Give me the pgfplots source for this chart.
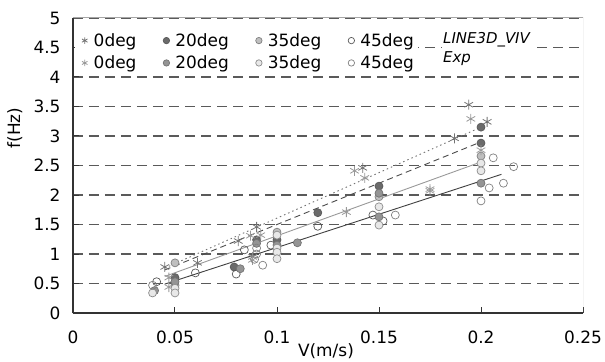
\documentclass[border=0pt]{standalone}
\usepackage{pgfplots}
\pgfplotsset{compat=1.18}
\usepackage{fontspec}
\setmainfont{DejaVu Sans}[ItalicFont={DejaVu Sans Oblique}]
\definecolor{gridc}{HTML}{5A5A5A}
\definecolor{axc}{HTML}{333333}
\begin{document}
\begin{tikzpicture}[font=\fontsize{17}{20}\selectfont]
\begin{axis}[
  scale only axis, width=510bp, height=295bp,
  xmin=0, xmax=0.25, ymin=0, ymax=5,
  xtick={0,0.05,0.1,0.15,0.2,0.25},
  xticklabels={0,0.05,0.1,0.15,0.2,0.25},
  ytick={0,0.5,1,1.5,2,2.5,3,3.5,4,4.5,5},
  yticklabels={0,0.5,1,1.5,2,2.5,3,3.5,4,4.5,5},
  /pgf/number format/assume math mode=true,
  axis lines=left,
  axis line style={draw=axc, line width=1.2bp, -},
  tick style={draw=axc, line width=1bp},
  tick align=inside, major tick length=6bp,
  xticklabel style={yshift=-14bp},
  yticklabel style={xshift=-9bp},
  ymajorgrids,
  major grid style={draw=gridc, line width=1.1bp, dash pattern=on 10bp off 6bp},
  xlabel={V(m/s)}, ylabel={f(Hz)},
  xlabel style={at={(axis description cs:0.496,-0.129)}, anchor=center},
  ylabel style={at={(axis description cs:-0.114,0.627)}, anchor=center},
  legend columns=4,
  legend cell align=left,
  legend image code/.code={\path[draw=none, fill=none] (0bp,-4bp) rectangle (15bp,4bp); \draw[#1, only marks, mark size=3.2bp] plot coordinates {(10bp,0bp)};},
  legend style={at={(axis description cs:0.003,0.962)}, anchor=north west,
    draw=none, fill=white, inner sep=0bp,
    nodes={inner ysep=4bp, inner xsep=4bp},
    /tikz/every even column/.append style={column sep=16bp}},
]
% fit lines
\addplot[forget plot, color=black!55, line width=0.9bp, dash pattern=on 1.5bp off 3bp] coordinates {(0.045,0.76) (0.2,3.15)};
\addplot[forget plot, color=black!70, line width=0.9bp, dash pattern=on 6bp off 4bp] coordinates {(0.045,0.73) (0.2,2.90)};
\addplot[forget plot, color=black!40, line width=0.9bp] coordinates {(0.045,0.62) (0.2,2.56)};
\addplot[forget plot, color=black!75, line width=0.9bp] coordinates {(0.045,0.49) (0.21,2.35)};

% row 1 (LINE3D_VIV)
\addplot[only marks, mark=asterisk, mark size=5bp, color=black!55, line width=0.8bp]
 coordinates {(0.045,0.78) (0.061,0.85) (0.081,1.22) (0.090,1.46) (0.142,2.46) (0.194,3.53) (0.203,3.24) (0.187,2.96)};
\addlegendentry{0deg}
\addplot[only marks, mark=*, mark size=4bp, draw=black!65, fill=black!58, line width=0.7bp]
 coordinates {(0.05,0.60) (0.079,0.78) (0.090,1.24) (0.1,1.24) (0.12,1.70) (0.15,2.15) (0.2,3.15) (0.2,2.88)};
\addlegendentry{20deg}
\addplot[only marks, mark=*, mark size=4bp, draw=black!50, fill=black!25, line width=0.7bp]
 coordinates {(0.05,0.85) (0.05,0.47) (0.1,1.37) (0.15,1.97) (0.2,2.66)};
\addlegendentry{35deg}
\addplot[only marks, mark=o, mark size=4bp, draw=black!65, line width=0.7bp]
 coordinates {(0.041,0.53) (0.06,0.68) (0.080,0.66) (0.084,1.07) (0.097,1.15) (0.12,1.47) (0.147,1.66) (0.152,1.56)};
\addlegendentry{45deg}
% row 2 (Exp)
\addplot[only marks, mark=asterisk, mark size=5bp, color=black!40, line width=0.8bp]
 coordinates {(0.047,0.60) (0.047,0.44) (0.087,1.31) (0.092,1.32) (0.088,0.95) (0.088,0.90) (0.134,1.71) (0.138,2.41) (0.143,2.29) (0.175,2.10) (0.175,2.07) (0.195,3.29) (0.2,2.76)};
\addlegendentry{0deg}
\addplot[only marks, mark=*, mark size=4bp, draw=black!55, fill=black!42, line width=0.7bp]
 coordinates {(0.040,0.38) (0.082,0.75) (0.090,1.18) (0.1,1.15) (0.11,1.19) (0.15,2.03) (0.15,1.63) (0.2,2.20) (0.05,0.53)};
\addlegendentry{20deg}
\addplot[only marks, mark=*, mark size=4bp, draw=black!45, fill=black!9, line width=0.7bp]
 coordinates {(0.039,0.34) (0.05,0.42) (0.05,0.34) (0.1,1.32) (0.1,1.10) (0.1,1.03) (0.1,0.92) (0.15,1.80) (0.15,1.49) (0.2,2.54) (0.2,2.41)};
\addlegendentry{35deg}
\addplot[only marks, mark=o, mark size=4bp, draw=black!50, line width=0.7bp]
 coordinates {(0.039,0.47) (0.090,1.10) (0.090,1.0) (0.089,0.91) (0.093,0.81) (0.158,1.66) (0.2,1.90) (0.204,2.12) (0.206,2.63) (0.211,2.20) (0.216,2.48)};
\addlegendentry{45deg}

\draw[draw=black!35, line width=1bp] (rel axis cs:0,1) -- (rel axis cs:1,1) -- (rel axis cs:1,0);
\node[anchor=base west, fill=white, inner sep=1bp, font=\fontsize{15}{18}\selectfont\itshape] at (axis description cs:0.7235,0.912) {LINE3D\_VIV};
\node[anchor=base west, fill=white, inner sep=1bp, font=\fontsize{15}{18}\selectfont\itshape] at (axis description cs:0.7235,0.848) {Exp};
\end{axis}
\pgfresetboundingbox
\path[use as bounding box] ([shift={(-73bp,-49bp)}]current axis.south west) rectangle ([shift={(22bp,18bp)}]current axis.north east);
\end{tikzpicture}
\end{document}
